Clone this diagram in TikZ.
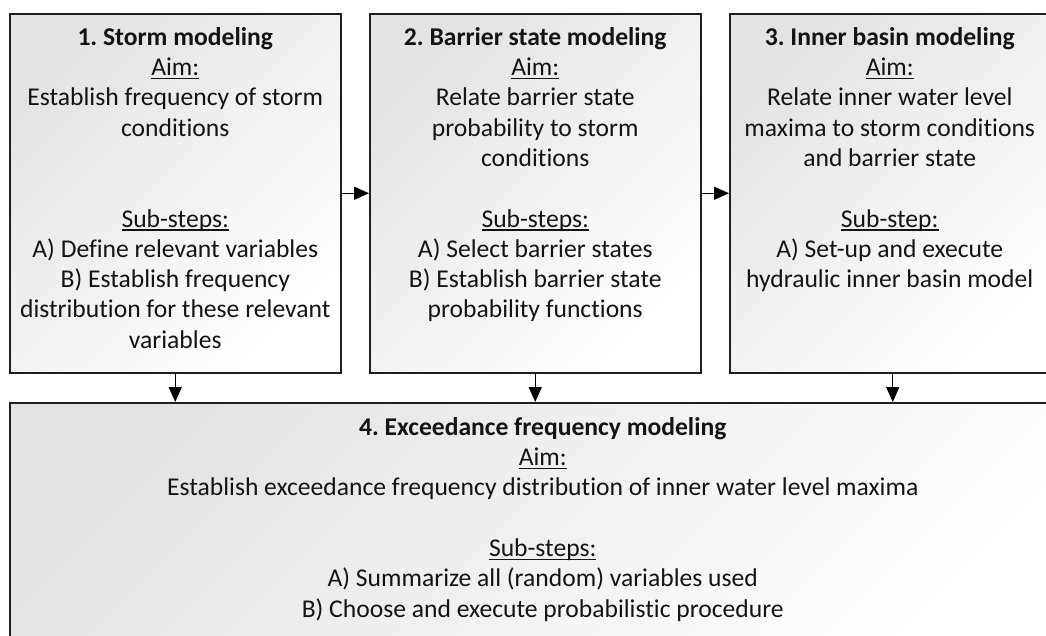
\documentclass[tikz,border=0pt]{standalone}
\usepackage{fontspec}
\setmainfont{Carlito}[Ligatures=NoCommon]
\usetikzlibrary{arrows.meta}

\tikzset{
  stagebox/.style={draw=black!88, line width=1.5pt, rectangle, inner sep=0pt,
    anchor=north west, top color=black!11, bottom color=white, shading angle=45},
  stagetext/.style={anchor=north, inner sep=0pt, align=center, text=black!92,
    font=\fontsize{25.6}{30.3}\selectfont\frenchspacing},
  flow/.style={line width=1.4pt, draw=black,
    -{Triangle[length=15pt,width=13pt]}}
}
% invisible strut fixing the height of the first line
\newcommand{\firstline}{\rule{0pt}{20pt}}
% underline at a fixed depth below the baseline
\newsavebox{\ulbox}
\newcommand{\uln}[1]{\sbox{\ulbox}{#1}\rlap{\rule[-3.5pt]{\wd\ulbox}{1.1pt}}\usebox{\ulbox}}

\begin{document}
\begin{tikzpicture}[x=1pt,y=-1pt]
\useasboundingbox (0,0) rectangle (1046,635);
\clip (0,0) rectangle (1046,635);

% stage boxes
\node[stagebox, minimum width=331pt, minimum height=359pt] (b1) at (9,13) {};
\node[stagebox, minimum width=331pt, minimum height=359pt] (b2) at (369,13) {};
\node[stagebox, minimum width=326pt, minimum height=359pt] (b3) at (729,13) {};
\node[stagebox, minimum width=1066pt, minimum height=260pt] (b4) at (9,402) {};

% stage texts
\node[stagetext] (t1) at ([yshift=-12pt]b1.north) {\firstline\textbf{1. Storm modeling}\\
  \uln{Aim:}\\
  Establish frequency of storm\\
  conditions\\~\\~\\
  \uln{Sub-steps:}\\
  A) Define relevant variables\\
  B) Establish frequency\\
  distribution for these relevant\\
  variables};

\node[stagetext] (t2) at ([yshift=-12pt]b2.north) {\firstline\textbf{2. Barrier state modeling}\\
  \uln{Aim:}\\
  Relate barrier state\\
  probability to storm\\
  conditions\\~\\
  \uln{Sub-steps:}\\
  A) Select barrier states\\
  B) Establish barrier state\\
  probability functions};

\node[stagetext] (t3) at ([xshift=-3pt,yshift=-12pt]b3.north) {\firstline\textbf{3. Inner basin modeling}\\
  \uln{Aim:}\\
  Relate inner water level\\
  maxima to storm conditions\\
  and barrier state\\~\\
  \uln{Sub-step:}\\
  A) Set-up and execute\\
  hydraulic inner basin model};

\node[stagetext] (t4) at ([yshift=-13pt]b4.north) {\firstline\textbf{4. Exceedance frequency modeling}\\
  \uln{Aim:}\\
  Establish exceedance frequency distribution of inner water level maxima\\~\\
  \uln{Sub-steps:}\\
  A) Summarize all (random) variables used\\
  B) Choose and execute probabilistic procedure};

% connectors
\draw[flow] (b1.east) -- (b2.west);
\draw[flow] (b2.east) -- (b3.west);
\draw[flow] (b1.south) -- (b1.south |- b4.north);
\draw[flow] (b2.south) -- (b2.south |- b4.north);
\draw[flow] (b3.south) -- (b3.south |- b4.north);
\end{tikzpicture}
\end{document}
